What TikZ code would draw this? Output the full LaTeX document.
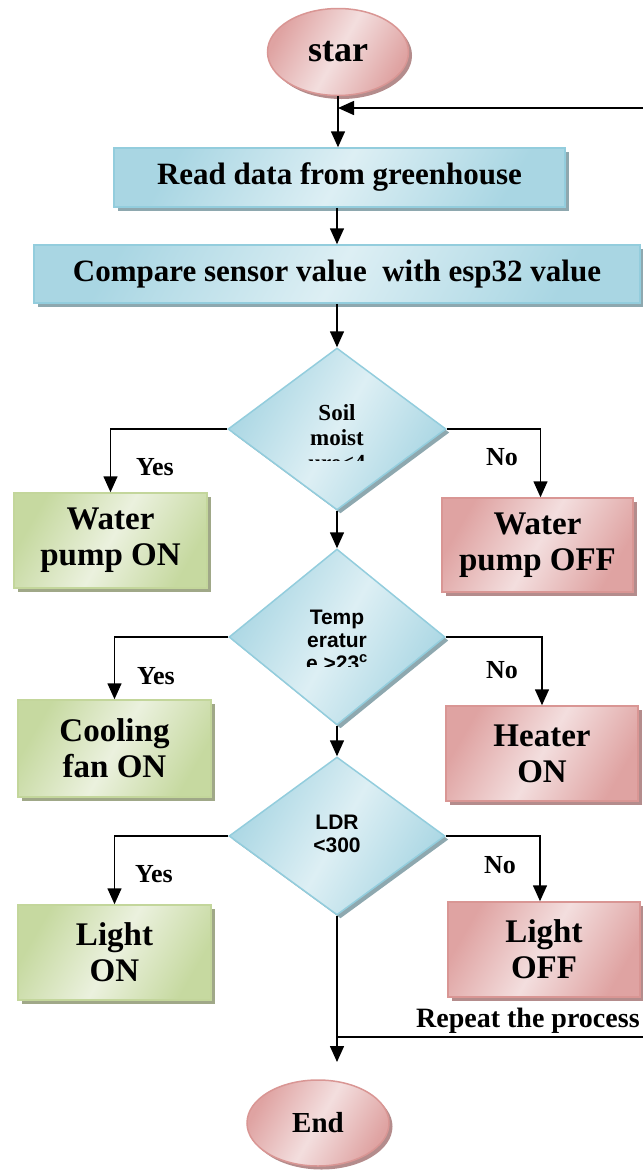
\documentclass[tikz,border=0pt]{standalone}
\usepackage{fontspec}
\setmainfont{Liberation Serif}
\newfontfamily\arialf{Liberation Sans}
\usetikzlibrary{shapes.geometric,shadows,arrows.meta}
\definecolor{blueB}{HTML}{93CDDD}
\definecolor{blueD}{HTML}{A9D6E3}
\definecolor{blueL}{HTML}{DDEFF4}
\definecolor{blueS}{HTML}{8EA8AF}
\definecolor{greenB}{HTML}{C3D69B}
\definecolor{greenD}{HTML}{C6D9A0}
\definecolor{greenL}{HTML}{EBF1DE}
\definecolor{greenS}{HTML}{A0A888}
\definecolor{redB}{HTML}{D99694}
\definecolor{redD}{HTML}{DFA3A2}
\definecolor{redL}{HTML}{F3DEDE}
\definecolor{redS}{HTML}{B48C8C}
\begin{document}
\begin{tikzpicture}[x=1pt,y=-1pt,
  arr/.style={line width=1.5pt,-{Triangle[length=16pt,width=14pt]}},
  ln/.style={line width=1.5pt},
  shd/.style={drop shadow={shadow xshift=3.5pt,shadow yshift=-3.5pt,fill=#1,opacity=1}},
  bluefill/.style={draw=blueB, line width=1.5pt, top color=blueD, bottom color=blueD, middle color=blueL, shading angle=60, shd=blueS},
  greenfill/.style={draw=greenB, line width=1.5pt, top color=greenD, bottom color=greenD, middle color=greenL, shading angle=60, shd=greenS},
  redfill/.style={draw=redB, line width=1.5pt, top color=redD, bottom color=redD, middle color=redL, shading angle=60, shd=redS},
  procbox/.style={rectangle, bluefill, inner sep=0pt, font=\bfseries\fontsize{31}{36}\selectfont},
  yesbox/.style={rectangle, greenfill, inner sep=0pt, align=center, font=\bfseries\fontsize{33}{36}\selectfont},
  nobox/.style={rectangle, redfill, inner sep=0pt, align=center, font=\bfseries\fontsize{33}{36}\selectfont},
  terminal/.style={ellipse, redfill, inner sep=0pt},
  decision/.style={diamond, bluefill, inner sep=0pt},
  dtext/.style={inner sep=0pt, align=center, font=\arialf\bfseries\fontsize{21}{23}\selectfont},
  dtextserif/.style={inner sep=0pt, align=center, font=\bfseries\fontsize{23}{25}\selectfont},
  lbl/.style={inner sep=0pt, font=\bfseries\fontsize{26}{30}\selectfont}
]
\useasboundingbox (0,0) rectangle (643,1171);
\clip (0,0) rectangle (643,1171);

% terminals
\node[terminal, minimum width=141pt, minimum height=87pt, font=\bfseries\fontsize{36}{40}\selectfont] (star) at (338,52) {star};
\node[terminal, minimum width=142pt, minimum height=86pt, font=\bfseries\fontsize{29}{34}\selectfont] (end) at (318,1123) {End};

% process boxes
\node[procbox, minimum width=451pt, minimum height=59pt] (read) at (339.5,177.5) {Read data from greenhouse};
\node[procbox, minimum width=606pt, minimum height=58pt] (cmp) at (337,274) {Compare sensor value \ with esp32 value};

% decisions
\node[decision, minimum width=218pt, minimum height=162pt] (d1) at (337,429) {};
\node[decision, minimum width=216pt, minimum height=176pt] (d2) at (337,637) {};
\node[decision, minimum width=216pt, minimum height=158pt] (d3) at (337,836) {};

\begin{scope}
  \clip (250,395) rectangle (420,460);
  \node[dtextserif] (t1) at (337,438) {Soil\\moist\\ure<4};
\end{scope}
\begin{scope}
  \clip (250,595) rectangle (420,666);
  \node[dtext] (t2) at (337,640) {Temp\\eratur\\e >23\textsuperscript{c}};
\end{scope}
\node[dtext] (t3) at (337,833.5) {LDR\\<300};

% outcome boxes
\node[yesbox, minimum width=193pt, minimum height=95pt] (won) at (110.5,540.5) {Water\\pump ON};
\node[nobox, minimum width=191pt, minimum height=94pt] (woff) at (537.5,545) {Water\\pump OFF};
\node[yesbox, minimum width=193pt, minimum height=97pt] (cool) at (114.5,748.5) {Cooling\\fan ON};
\node[nobox, minimum width=192pt, minimum height=95pt] (heat) at (542,753.5) {Heater\\ON};
\node[yesbox, minimum width=193pt, minimum height=95pt] (lon) at (114.5,952.5) {Light\\ON};
\node[nobox, minimum width=192pt, minimum height=95pt] (loff) at (544,949.5) {Light\\OFF};

% labels
\node[lbl] (y1) at (155,467) {Yes};
\node[lbl] (n1) at (502,457) {No};
\node[lbl] (y2) at (156,676) {Yes};
\node[lbl] (n2) at (502,670) {No};
\node[lbl] (y3) at (154,874) {Yes};
\node[lbl] (n3) at (500,865) {No};
\node[inner sep=0pt, anchor=west, font=\bfseries\fontsize{28}{32}\selectfont] (rep) at (416,1021) {Repeat the process};

% connectors
\draw[arr] (star.south) -- (star.south |- read.north);
\draw[arr] (read.south -| d1.north) -- (cmp.north -| d1.north);
\draw[arr] (cmp.south -| d1.north) -- (d1.north);
\draw[arr] (d1.west) -| (won.north);
\draw[arr] (d1.east) -| ([xshift=3pt]woff.north);
\draw[arr] (d1.south) -- (d2.north);
\draw[arr] (d2.west) -| (cool.north);
\draw[arr] (d2.east) -| (heat.north);
\draw[arr] (d2.south) -- (d3.north);
\draw[arr] (d3.west) -| (lon.north);
\draw[arr] (d3.east) -| ([xshift=-4pt]loff.north);
\coordinate (tipEnd) at (337,1062);
\draw[arr] (d3.south) -- (tipEnd);
\coordinate (loopR) at (645,108);
\draw[arr] (loopR) -- (loopR -| star.south);
\coordinate (repR) at (645,1037);
\draw[ln] (repR) -- (repR -| d3.south);
\end{tikzpicture}
\end{document}
